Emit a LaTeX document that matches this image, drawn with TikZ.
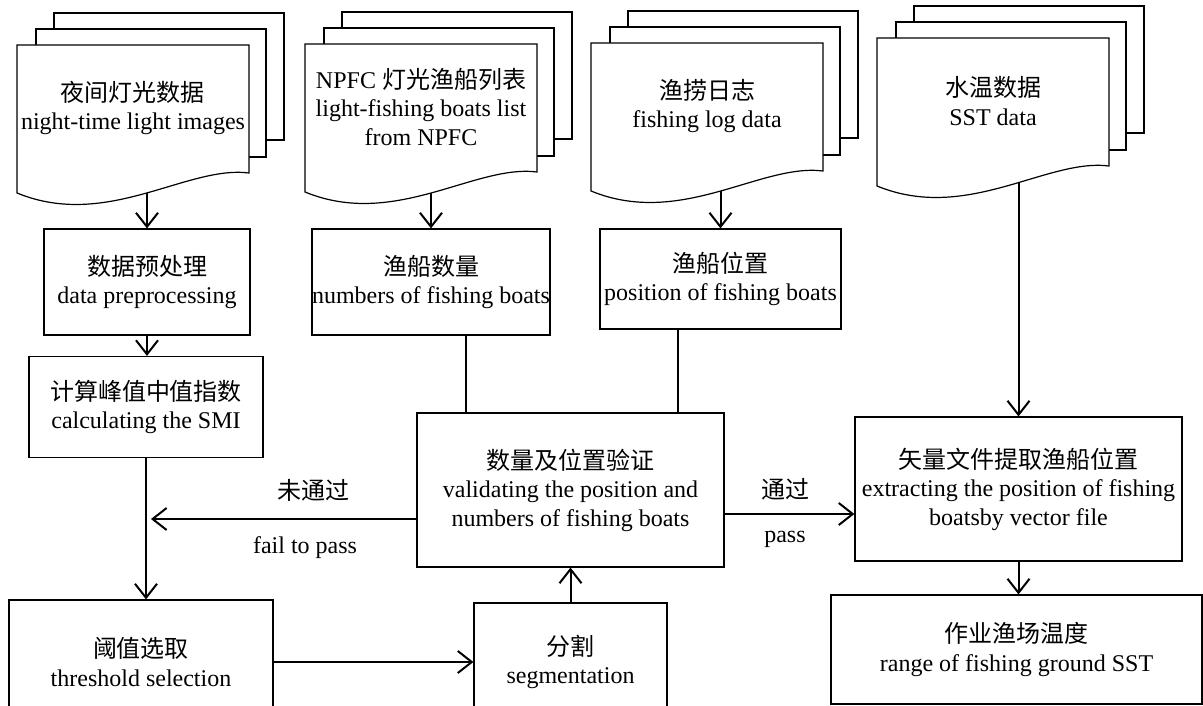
\documentclass[tikz,border=0pt]{standalone}
\usepackage{fontspec}
\setmainfont{Liberation Serif}
\newfontfamily\cjk{Noto Sans CJK SC}
\usetikzlibrary{arrows.meta,backgrounds}

\tikzset{
    box/.style      = {draw, line width = 1.2pt, align = center, inner sep = 0pt},
    sheet/.style    = {draw, fill = white, line width = 1.2pt},
    doctext/.style  = {align = center, inner sep = 0pt},
    link/.style     = {line width = 2pt},
    arr/.style      = {link, -{Straight Barb[length = 14pt, width = 22pt]}},
    docstack/.pic   = {
        \draw [sheet] (37,-32) rectangle (267,95);
        \draw [sheet] (19,-16) rectangle (249,112);
        \draw [sheet] (0,0) -- (232,0) -- (232,128)
                      .. controls (170,120) and (90,185) .. (0,148) -- cycle;
        \node [doctext] (-t) at (116,63) {#1};
        \coordinate (-b) at (116,120);
    },
}

\begin{document}
\begin{tikzpicture}[x = 1pt, y = -1pt, font = \fontsize{24}{28.5}\selectfont]
    \clip (0,0) rectangle (1203,706);

    % input data
    \pic (lights) at (17,45)  {docstack = {{\cjk 夜间灯光数据}\\night-time light images}};
    \pic (boats)  at (305,44) {docstack = {NPFC {\cjk 灯光渔船列表}\\light-fishing boats list\\from NPFC}};
    \pic (logs)   at (591,43) {docstack = {{\cjk 渔捞日志}\\fishing log data}};
    \pic (sst)    at (877,38) {docstack = {{\cjk 水温数据}\\SST data}};

    % processing steps
    \node [box, minimum width = 206pt, minimum height = 106pt] (prep)     at (147,282)    {{\cjk 数据预处理}\\data preprocessing};
    \node [box, minimum width = 234pt, minimum height = 101pt] (smi)      at (146,407)    {{\cjk 计算峰值中值指数}\\calculating the SMI};
    \node [box, minimum width = 234pt, minimum height = 106pt] (count)    at (431,282)    {{\cjk 渔船数量}\\numbers of fishing boats};
    \node [box, minimum width = 241pt, minimum height = 100pt] (pos)      at (720.5,279)  {{\cjk 渔船位置}\\position of fishing boats};
    \node [box, minimum width = 307pt, minimum height = 154pt] (check)    at (570.5,490)  {{\cjk 数量及位置验证}\\validating the position and\\numbers of fishing boats};
    \node [box, minimum width = 327pt, minimum height = 144pt] (vector)   at (1018.5,489) {{\cjk 矢量文件提取渔船位置}\\extracting the position of fishing\\boatsby vector file};
    \node [box, minimum width = 371pt, minimum height = 109pt] (sstrange) at (1016.5,649.5){{\cjk 作业渔场温度}\\range of fishing ground SST};
    \node [box, minimum width = 264pt, minimum height = 124pt] (thresh)   at (141,662)    {{\cjk 阈值选取}\\threshold selection};
    \node [box, minimum width = 193pt, minimum height = 118pt] (segm)     at (570.5,662)  {{\cjk 分割}\\segmentation};

    % labels
    \node (failcn) at (313,490) {{\cjk 未通过}};
    \node (failen) at (305,548) {fail to pass};
    \node (passcn) at (785,489) {{\cjk 通过}};
    \node (passen) at (785,539) {pass};

    % links out of the documents
    \begin{scope}[on background layer]
        \draw [arr] (prep |- lights-b)  -- (prep);
        \draw [arr] (count |- boats-b)  -- (count);
        \draw [arr] (pos |- logs-b)     -- (pos);
        \draw [arr] (vector |- sst-b)   -- (vector);
    \end{scope}

    \draw [arr] (prep.south)    -- (prep.south |- smi.north);
    \draw [arr] (smi.south)     -- (smi.south |- thresh.north);
    \draw [arr] (thresh.east)   -- (thresh.east -| segm.west);
    \draw [arr] (segm.north)    -- (segm.north |- check.south);

    \coordinate (cntdrop) at ([xshift = 35pt]count.south);
    \coordinate (posdrop) at ([xshift = -42.5pt]pos.south);
    \draw [link] (cntdrop) -- (cntdrop |- check.north);
    \draw [link] (posdrop) -- (posdrop |- check.north);

    \coordinate (failtip) at (151,519);
    \coordinate (passrow) at (0,514);
    \draw [arr] (check.west |- failtip) -- (failtip);
    \draw [arr] (check.east |- passrow) -- (vector.west |- passrow);
    \draw [arr] (vector.south)  -- (vector.south |- sstrange.north);
\end{tikzpicture}
\end{document}
